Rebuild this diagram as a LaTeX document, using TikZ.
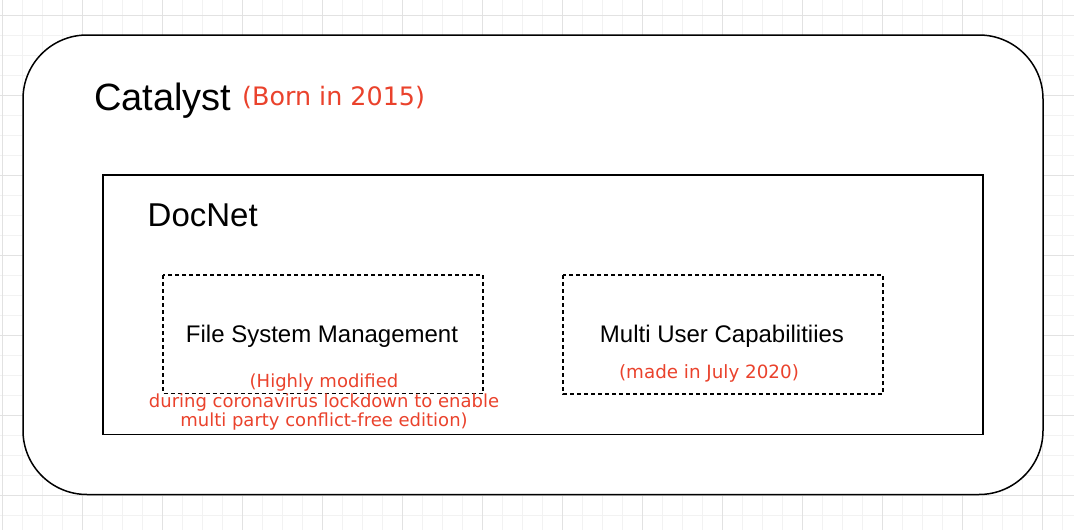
\documentclass[tikz,border=0pt]{standalone}
\usepackage{fontspec}
\setmainfont{Liberation Sans}
\newfontfamily\notefont{DejaVu Sans}
\definecolor{notered}{RGB}{234,66,44}
\definecolor{gridminor}{RGB}{242,242,242}
\definecolor{gridmajor}{RGB}{226,226,226}
\begin{document}
\begin{tikzpicture}[x=1pt,y=-1pt,
  frame/.style={draw=black,line width=1.5pt,fill=white},
  dashbox/.style={draw=black,line width=1.5pt,dash pattern=on 4pt off 3pt},
  title/.style={inner sep=0pt,anchor=base west,text=black},
  label/.style={inner sep=0pt,anchor=base,text=black,font=\fontsize{24}{28}\selectfont},
  note/.style={inner sep=0pt,text=notered,align=center}]
\useasboundingbox (0,0) rectangle (1074,530);
\fill[white] (0,0) rectangle (1074,530);
% grid
\foreach \i in {0,...,54} {\draw[gridminor,line width=1pt] ({2.3+20*\i},0) -- ({2.3+20*\i},530);}
\foreach \j in {0,...,27} {\draw[gridminor,line width=1pt] (0,{-5+20*\j}) -- (1074,{-5+20*\j});}
\foreach \i in {0,...,13} {\draw[gridmajor,line width=1pt] ({2.3+80*\i},0) -- ({2.3+80*\i},530);}
\foreach \j in {0,...,6} {\draw[gridmajor,line width=1pt] (0,{15+80*\j}) -- (1074,{15+80*\j});}
% outer container
\draw[frame,rounded corners=64pt] (23,35) rectangle (1043,494.5);
\node[title,font=\fontsize{38}{44}\selectfont] (catalyst) at (94,110.7) {Catalyst};
\node[note,anchor=base west,font=\notefont\fontsize{25.4}{30}\selectfont] (born) at (242,105.7) {(Born in 2015)};
% DocNet
\draw[frame] (103,175) rectangle (983,434.5);
\node[title,font=\fontsize{33}{38}\selectfont] (docnet) at (147.5,226.7) {DocNet};
% sub boxes
\draw[dashbox] (163,275) rectangle (483,393.5);
\draw[dashbox] (563,275) rectangle (883,394);
\node[label] (fsm) at (322,342.7) {File System Management};
\node[label] (muc) at (722,342.7) {Multi User Capabilitiies};
\node[note,anchor=base,font=\notefont\fontsize{18}{19.7}\selectfont] (fsmnote) at (324,426.7)
  {(Highly modified\\during coronavirus lockdown to enable\\multi party conflict-free edition)};
\node[note,anchor=base,font=\notefont\fontsize{18.3}{20}\selectfont] (mucnote) at (709,378.3) {(made in July 2020)};
\end{tikzpicture}
\end{document}
